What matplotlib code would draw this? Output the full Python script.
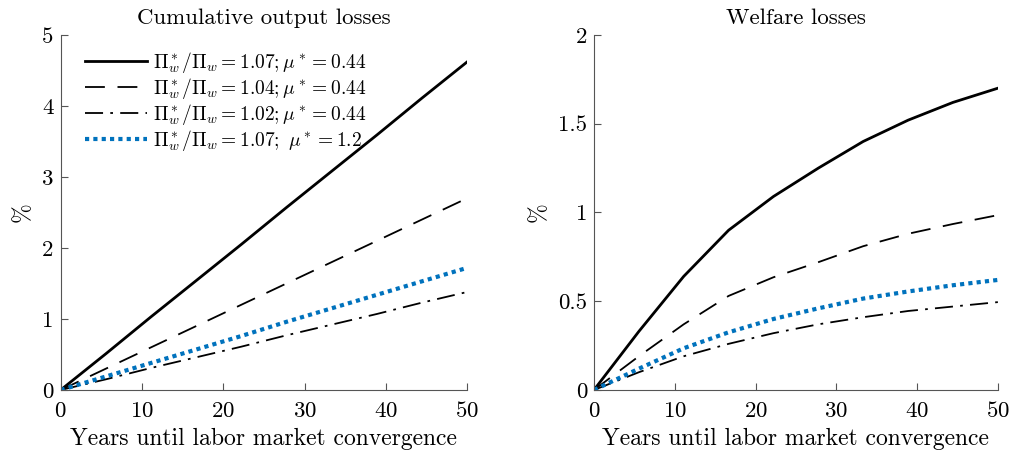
import matplotlib
matplotlib.use('Agg')
import matplotlib.pyplot as plt
from matplotlib.ticker import FormatStrFormatter

# LaTeX-like look
plt.rcParams['font.family'] = ['cmr10', 'DejaVu Serif']
plt.rcParams['mathtext.fontset'] = 'cm'
plt.rcParams['axes.formatter.use_mathtext'] = True

years = [0, 5.56, 11.11, 16.67, 22.22, 27.78, 33.33, 38.89, 44.44, 50]

# cumulative output losses (%)
out_107 = [0, 0.51, 1.03, 1.54, 2.05, 2.57, 3.08, 3.59, 4.11, 4.62]
out_104 = [0, 0.30, 0.60, 0.90, 1.20, 1.50, 1.80, 2.10, 2.40, 2.70]
out_102 = [0, 0.15, 0.31, 0.46, 0.61, 0.77, 0.92, 1.07, 1.23, 1.38]
out_mu12 = [0, 0.19, 0.38, 0.57, 0.76, 0.96, 1.15, 1.34, 1.53, 1.72]

# welfare losses (%)
wel_107 = [0, 0.33, 0.64, 0.90, 1.09, 1.25, 1.40, 1.52, 1.62, 1.70]
wel_104 = [0, 0.19, 0.37, 0.53, 0.635, 0.72, 0.81, 0.88, 0.935, 0.985]
wel_102 = [0, 0.10, 0.19, 0.26, 0.32, 0.37, 0.41, 0.445, 0.47, 0.495]
wel_mu12 = [0, 0.12, 0.235, 0.325, 0.40, 0.46, 0.515, 0.555, 0.59, 0.62]

labels = [r'$\Pi_w^*/\Pi_w = 1.07; \mu^* = 0.44$',
          r'$\Pi_w^*/\Pi_w = 1.04; \mu^* = 0.44$',
          r'$\Pi_w^*/\Pi_w = 1.02; \mu^* = 0.44$',
          r'$\Pi_w^*/\Pi_w = 1.07;\ \mu^* = 1.2$']

blue = '#0072BD'
axcol = '#555555'

fig = plt.figure(figsize=(10.11, 4.54), dpi=100)
ax1 = fig.add_axes([0.060, 0.141, 0.402, 0.782])
ax2 = fig.add_axes([0.5875, 0.141, 0.3995, 0.782])


def draw(ax, s1, s2, s3, s4):
    ax.plot(years, s1, color='black', lw=2.0, label=labels[0])
    ax.plot(years, s2, color='black', lw=1.3, linestyle=(0, (11, 7)), label=labels[1])
    ax.plot(years, s3, color='black', lw=1.3, linestyle=(0, (10, 4, 1.5, 4)), label=labels[2])
    ax.plot(years, s4, color=blue, lw=3.0, linestyle=(0, (1, 1)), label=labels[3])
    ax.set_xlim(0, 50)
    ax.set_xticks([0, 10, 20, 30, 40, 50])
    for sp in ['top', 'right']:
        ax.spines[sp].set_visible(False)
    for sp in ['left', 'bottom']:
        ax.spines[sp].set_color(axcol)
        ax.spines[sp].set_linewidth(0.8)
    ax.tick_params(direction='in', length=5, color=axcol, labelsize=16.5, pad=5)
    ax.tick_params(axis='x', pad=8)
    ax.yaxis.set_major_formatter(FormatStrFormatter('%g'))
    ax.set_xlabel('Years until labor market convergence', fontsize=17, labelpad=5)
    ax.set_ylabel('%', fontsize=17, labelpad=6)


draw(ax1, out_107, out_104, out_102, out_mu12)
ax1.set_ylim(0, 5)
ax1.set_yticks([0, 1, 2, 3, 4, 5])
ax1.set_title('Cumulative output losses', fontsize=16.5, pad=8)
ax1.legend(loc='upper left', frameon=False, fontsize=14, handlelength=3.2,
           labelspacing=0.05, handletextpad=0.3, borderaxespad=0.0,
           bbox_to_anchor=(0.04, 0.98))

draw(ax2, wel_107, wel_104, wel_102, wel_mu12)
ax2.set_ylim(0, 2)
ax2.set_yticks([0, 0.5, 1, 1.5, 2])
ax2.set_title('Welfare losses', fontsize=16.5, pad=8)

fig.savefig('out.png', dpi=100)
